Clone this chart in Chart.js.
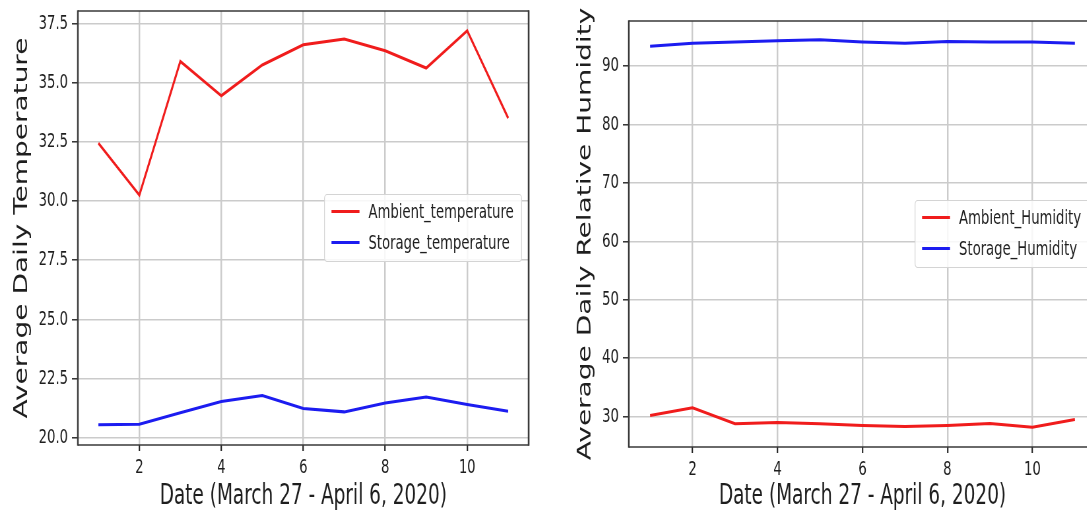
<!DOCTYPE html>
<html>
<head>
<meta charset="utf-8">
<script src="https://cdn.jsdelivr.net/npm/chart.js@4/dist/chart.umd.min.js"></script>
<style>
  html, body { margin: 0; padding: 0; background: #fff; width: 1087px; height: 516px; overflow: hidden; }
  .wrap { position: absolute; top: 0; transform-origin: 0 0; }
</style>
</head>
<body>
<div class="wrap" id="w1" style="left:0px; transform: scaleX(0.66);"><canvas id="c1" width="818" height="516"></canvas></div>
<div class="wrap" id="w2" style="left:545px; transform: scaleX(0.66);"><canvas id="c2" width="862" height="516"></canvas></div>
<script>
// ---- data ----
const days = [1, 2, 3, 4, 5, 6, 7, 8, 9, 10, 11];
const ambientTemperature = [32.45, 30.25, 35.9, 34.45, 35.75, 36.6, 36.85, 36.35, 35.62, 37.2, 33.5];
const storageTemperature = [20.55, 20.57, 21.05, 21.53, 21.78, 21.23, 21.09, 21.46, 21.72, 21.4, 21.12];
const ambientHumidity = [30.2, 31.5, 28.8, 29.0, 28.8, 28.5, 28.3, 28.5, 28.8, 28.2, 29.5];
const storageHumidity = [93.4, 93.9, 94.1, 94.3, 94.5, 94.1, 93.9, 94.2, 94.1, 94.1, 93.9];
const xTicks = [2, 4, 6, 8, 10];
const tempTicks = [20.0, 22.5, 25.0, 27.5, 30.0, 32.5, 35.0, 37.5];
const humTicks = [30, 40, 50, 60, 70, 80, 90];
const xTitle = 'Date (March 27 - April 6, 2020)';
const tempTitle = 'Average Daily Temperature';
const humTitle = 'Average Daily Relative Humidity';

const S = 0.66; // horizontal squeeze of the reference picture
const FONT = 'DejaVu Sans';
const TXT = '#1e1e1e';

function pts(ys) { return days.map((d, i) => ({ x: d, y: ys[i] })); }

const frameAndLegend = {
  id: 'frameAndLegend',
  afterDatasetsDraw(chart) {
    const ctx = chart.ctx;
    const a = chart.chartArea;
    ctx.save();
    // spines
    ctx.strokeStyle = '#3a3a3a';
    ctx.lineWidth = 1.7;
    ctx.beginPath();
    ctx.moveTo(a.left, a.top); ctx.lineTo(a.right, a.top);
    ctx.moveTo(a.left, a.bottom); ctx.lineTo(a.right, a.bottom);
    ctx.stroke();
    ctx.lineWidth = 1.7 / S;
    ctx.beginPath();
    ctx.moveTo(a.left, a.top - 0.85); ctx.lineTo(a.left, a.bottom + 0.85);
    ctx.moveTo(a.right, a.top - 0.85); ctx.lineTo(a.right, a.bottom + 0.85);
    ctx.stroke();

    // legend (center right)
    const ds = chart.data.datasets;
    ctx.font = '20px "' + FONT + '"';
    let tw = 0;
    ds.forEach(d => { tw = Math.max(tw, ctx.measureText(d.label).width); });
    const padL = 7 / S, handle = 28 / S, gap = 9 / S, padR = 8 / S;
    const bw = padL + handle + gap + tw + padR;
    const bh = 67;
    const bx = a.right - 7 / S - bw;
    const by = (a.top + a.bottom) / 2 - bh / 2;
    ctx.fillStyle = 'rgba(255,255,255,0.85)';
    ctx.strokeStyle = '#d4d4d4';
    ctx.lineWidth = 1.2;
    ctx.beginPath();
    ctx.roundRect(bx, by, bw, bh, 4);
    ctx.fill();
    ctx.stroke();
    ds.forEach((d, i) => {
      const cy = by + 17 + i * 31;
      ctx.strokeStyle = d.borderColor;
      ctx.lineWidth = 3;
      ctx.beginPath();
      ctx.moveTo(bx + padL, cy);
      ctx.lineTo(bx + padL + handle, cy);
      ctx.stroke();
      ctx.fillStyle = TXT;
      ctx.textBaseline = 'middle';
      ctx.textAlign = 'left';
      ctx.fillText(d.label, bx + padL + handle + gap, cy + 1);
    });
    ctx.restore();
  }
};

function makeChart(id, sets, yMin, yMax, yTickVals, yFmt, yTitle, yWidth, yTitlePad, topPad, rightPad, xHeight) {
  return new Chart(document.getElementById(id), {
    type: 'line',
    data: {
      datasets: sets.map(s => ({
        label: s.label,
        data: pts(s.values),
        borderColor: s.color,
        backgroundColor: s.color,
        borderWidth: 3,
        pointRadius: 0,
        tension: 0,
        fill: false
      }))
    },
    options: {
      responsive: false,
      animation: false,
      devicePixelRatio: 1,
      layout: { padding: { top: topPad, right: rightPad, left: 0, bottom: 0 } },
      plugins: { legend: { display: false }, tooltip: { enabled: false } },
      scales: {
        x: {
          type: 'linear',
          min: 0.5, max: 11.5,
          afterBuildTicks: sc => { sc.ticks = xTicks.map(v => ({ value: v })); },
          afterFit: sc => { sc.height = xHeight; sc.paddingLeft = 0; sc.paddingRight = 0; },
          ticks: {
            autoSkip: false, maxRotation: 0, padding: 5,
            color: TXT, font: { family: FONT, size: 20 },
            callback: v => String(v)
          },
          grid: { color: '#cbcbcb', lineWidth: 1.6 / S, tickLength: 6, tickColor: '#222', tickWidth: 1.4 / S },
          border: { display: false },
          title: { display: true, text: xTitle, color: TXT, font: { family: FONT, size: 28, lineHeight: 1.2 }, padding: { top: 0, bottom: 2 } }
        },
        y: {
          type: 'linear',
          min: yMin, max: yMax,
          afterBuildTicks: sc => { sc.ticks = yTickVals.map(v => ({ value: v })); },
          afterFit: sc => { sc.width = yWidth; sc.paddingTop = 0; sc.paddingBottom = 0; },
          ticks: {
            autoSkip: false, padding: 6,
            color: TXT, font: { family: FONT, size: 20 },
            callback: yFmt
          },
          grid: { color: '#cbcbcb', lineWidth: 1.6, tickLength: 9, tickColor: '#222', tickWidth: 1.4 },
          border: { display: false },
          title: { display: true, text: yTitle, color: TXT, font: { family: FONT, size: 28, lineHeight: 1.2 }, padding: { top: yTitlePad, bottom: 0 } }
        }
      }
    },
    plugins: [frameAndLegend]
  });
}

makeChart('c1', [
  { label: 'Ambient_temperature', values: ambientTemperature, color: '#f01c1c' },
  { label: 'Storage_temperature', values: storageTemperature, color: '#1c1cf0' }
], 19.69, 38.03, tempTicks, v => Number(v).toFixed(1), tempTitle, 118, 17, 11, 17, 71);

makeChart('c2', [
  { label: 'Ambient_Humidity', values: ambientHumidity, color: '#f01c1c' },
  { label: 'Storage_Humidity', values: storageHumidity, color: '#1c1cf0' }
], 24.8, 97.7, humTicks, v => String(v), humTitle, 127, 45, 21, 27, 69);
</script>
</body>
</html>
